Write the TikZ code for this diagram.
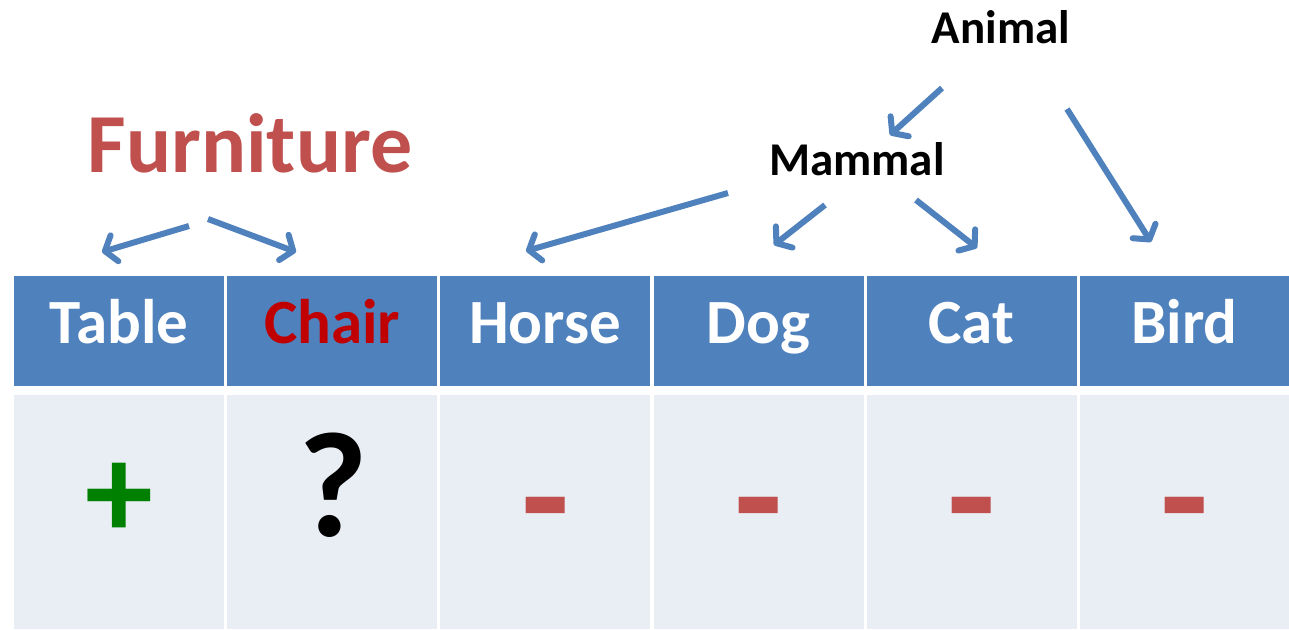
\documentclass[tikz,border=0pt]{standalone}
\usepackage{fontspec}
\setmainfont{Carlito}
\usetikzlibrary{arrows.meta}
\definecolor{hdrblue}{HTML}{4F81BD}
\definecolor{cellgray}{HTML}{E9EDF4}
\definecolor{negred}{HTML}{C0504D}
\definecolor{posgreen}{HTML}{008000}
\definecolor{chairred}{HTML}{C00000}

\begin{document}
\begin{tikzpicture}[x=1pt,y=-1pt,
  headcell/.style={fill=hdrblue, draw=none, minimum width=210pt, minimum height=110pt, anchor=north west, inner sep=0},
  bodycell/.style={fill=cellgray, draw=none, minimum width=210pt, minimum height=234pt, anchor=north west, inner sep=0},
  hdrtext/.style={font=\fontsize{63}{76}\selectfont\bfseries, anchor=base, inner sep=0},
  signtext/.style={font=\fontsize{150}{180}\selectfont\bfseries, anchor=base, inner sep=0},
  concept/.style={font=\fontsize{47}{56}\selectfont\bfseries, anchor=base, inner sep=0},
  link/.style={draw=hdrblue, line width=6pt, -{Straight Barb[length=10pt,width=27pt,round]}}
]
\useasboundingbox (0,0) rectangle (1289,629);
\fill[white] (0,0) rectangle (1289,629);

% table: header row and value row
\foreach \i/\nm/\txt/\col in {
    0/table/Table/white,
    1/chair/Chair/chairred,
    2/horse/Horse/white,
    3/dog/Dog/white,
    4/cat/Cat/white,
    5/bird/Bird/white} {
  \pgfmathsetmacro\xl{14+213.1*\i}
  \node[headcell] (h\nm) at (\xl,276) {};
  \node[bodycell] (v\nm) at (\xl,395) {};
  \node[hdrtext, text=\col] (\nm) at (\xl+105,343) {\txt};
}

% values
\node[signtext, text=posgreen, font=\fontsize{136}{160}\selectfont\bfseries] (stable) at (119,538) {+};
\node[signtext] (schair) at (333,536) {?};
\foreach \i/\nm in {2/horse,3/dog,4/cat,5/bird} {
  \pgfmathsetmacro\xc{14+213.1*\i+105}
  \node[signtext, text=negred, font=\fontsize{158}{190}\selectfont\bfseries] (s\nm) at (\xc,550) {-};
}

% category labels
\node[concept, font=\fontsize{84}{100}\selectfont\bfseries, text=negred] (furniture) at (250,172) {Furniture};
\node[concept] (animal) at (1001,43) {Animal};
\node[concept] (mammal) at (857,175) {Mammal};

% arrow end points
\coordinate (fa) at (189,226);  \coordinate (ta) at (102,252);
\coordinate (fb) at (208,219);  \coordinate (tb) at (296,252);
\coordinate (aa) at (942,88);   \coordinate (am) at (890,135);
\coordinate (ab) at (1067,109); \coordinate (bb) at (1151,242);
\coordinate (ma) at (728,193);  \coordinate (mh) at (526,251);
\coordinate (mb) at (825,205);  \coordinate (md) at (774,245);
\coordinate (mc) at (916,200);  \coordinate (mk) at (977,248);

\draw[link] (fa) -- (ta);
\draw[link] (fb) -- (tb);
\draw[link] (aa) -- (am);
\draw[link] (ab) -- (bb);
\draw[link] (ma) -- (mh);
\draw[link] (mb) -- (md);
\draw[link] (mc) -- (mk);
\end{tikzpicture}
\end{document}
